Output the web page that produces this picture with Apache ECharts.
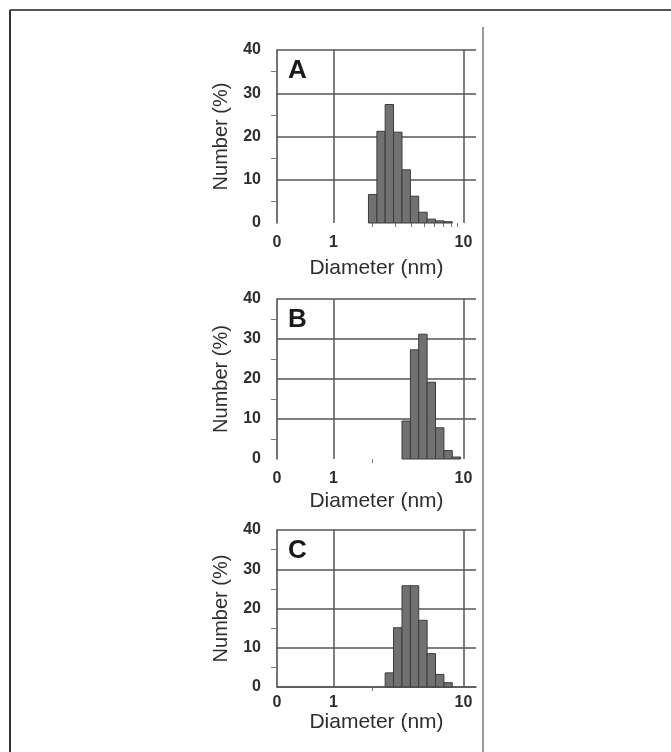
<!DOCTYPE html>
<html>
<head>
<meta charset="utf-8">
<style>
  html, body { margin: 0; padding: 0; background: #fff; }
  #chart { width: 671px; height: 752px; }
</style>
<script src="https://cdn.jsdelivr.net/npm/echarts@6/dist/echarts.min.js"></script>
</head>
<body>
<div id="chart"></div>
<script>
// Histogram bin edges (nm), shared by all panels
const binEdges = [1.86, 2.16, 2.50, 2.90, 3.37, 3.91, 4.53, 5.26, 6.10, 7.08, 8.21, 9.52];
// Panel values (Number %) and index of first bin
const panelLabels = ['A', 'B', 'C'];
const valuesA = [6.6, 21.2, 27.4, 21.0, 12.3, 6.2, 2.5, 0.9, 0.5, 0.3];
const valuesB = [9.5, 27.3, 31.2, 19.2, 7.8, 2.1, 0.5];
const valuesC = [3.6, 15.1, 25.8, 25.8, 17.0, 8.5, 3.2, 1.1];
const firstBinA = 0, firstBinB = 4, firstBinC = 2;
// Axis ticks
const xTickValues = [0.368, 1, 10];
const xTickLabels = ['0', '1', '10'];
const xMinorTicksA = [2, 3, 4, 5, 6, 7, 8, 9];
const xMinorTicksBC = [2];
const yTickValues = [0, 10, 20, 30, 40];
const xName = 'Diameter (nm)';
const yName = 'Number (%)';

const panels = [
  { vals: valuesA, first: firstBinA, minor: xMinorTicksA, top: 50, height: 173, nameGap: 35, labelMargin: 12, zeroLine: false },
  { vals: valuesB, first: firstBinB, minor: xMinorTicksBC, top: 299, height: 160, nameGap: 32, labelMargin: 12, zeroLine: false },
  { vals: valuesC, first: firstBinC, minor: xMinorTicksBC, top: 530, height: 157, nameGap: 14, labelMargin: 8, zeroLine: true }
];

const textColor = '#2e2e2e';
const gridColor = '#555';

const grids = [], xAxes = [], yAxes = [], series = [];
panels.forEach((p, i) => {
  grids.push({ left: 277, width: 199, top: p.top, height: p.height });
  xAxes.push({
    type: 'log', gridIndex: i, min: 0.368, max: 12.5, logBase: 10,
    name: xName, nameLocation: 'middle', nameGap: p.nameGap,
    nameTextStyle: { fontFamily: 'Liberation Sans', fontSize: 21, color: textColor },
    axisLine: { show: p.zeroLine, lineStyle: { color: gridColor, width: 1.5 } },
    axisTick: { show: true, customValues: p.minor, length: 4, lineStyle: { color: '#777' } },
    axisLabel: {
      customValues: xTickValues,
      formatter: v => xTickLabels[xTickValues.findIndex(t => Math.abs(t - v) < 1e-6)] ?? '',
      fontFamily: 'Liberation Sans', fontSize: 16, fontWeight: 'bold', color: textColor, margin: p.labelMargin
    },
    splitLine: { show: false }
  });
  yAxes.push({
    type: 'value', gridIndex: i, min: 0, max: 40, interval: 10,
    name: yName, nameLocation: 'middle', nameGap: 46,
    nameTextStyle: { fontFamily: 'Liberation Sans', fontSize: 20, color: textColor },
    axisLine: { show: true, lineStyle: { color: '#444', width: 1.5 } },
    axisTick: { show: false },
    minorTick: { show: true, splitNumber: 2, length: 6, lineStyle: { color: '#777' } },
    axisLabel: {
      fontFamily: 'Liberation Sans', fontSize: 16, fontWeight: 'bold', color: textColor, margin: 16,
      formatter: v => yTickValues.includes(v) ? String(v) : ''
    },
    splitLine: {
      show: true,
      lineStyle: { color: p.zeroLine ? gridColor : ['rgba(0,0,0,0)', gridColor, gridColor, gridColor, gridColor], width: 1.5 }
    }
  });
  const data = p.vals.map((v, k) => [binEdges[p.first + k], binEdges[p.first + k + 1], v]);
  series.push({
    type: 'custom', xAxisIndex: i, yAxisIndex: i,
    encode: { x: [0, 1], y: 2 },
    data: data,
    renderItem: (params, api) => {
      const tl = api.coord([api.value(0), api.value(2)]);
      const br = api.coord([api.value(1), 0]);
      return {
        type: 'rect',
        shape: { x: tl[0], y: tl[1], width: br[0] - tl[0], height: br[1] - tl[1] },
        style: { fill: '#717171', stroke: '#3c3c3c', lineWidth: 1 }
      };
    },
    markLine: {
      silent: true, symbol: 'none', label: { show: false },
      lineStyle: { color: gridColor, width: 1.5, type: 'solid' },
      data: [{ xAxis: 1 }, { xAxis: 10 }]
    },
    z: 3
  });
});

const letterGraphics = panelLabels.map((t, i) => ({
  type: 'text', left: 288, top: panels[i].top + 8,
  style: { text: t, fontFamily: 'Liberation Sans', fontSize: 26, fontWeight: 'bold', fill: '#1a1a1a' }
}));

const chart = echarts.init(document.getElementById('chart'), null, { renderer: 'canvas' });
chart.setOption({
  backgroundColor: '#fff',
  animation: false,
  grid: grids,
  xAxis: xAxes,
  yAxis: yAxes,
  series: series,
  graphic: [
    { type: 'line', shape: { x1: 10, y1: 10, x2: 671, y2: 10 }, style: { stroke: '#555', lineWidth: 2 } },
    { type: 'line', shape: { x1: 10, y1: 10, x2: 10, y2: 752 }, style: { stroke: '#333', lineWidth: 2 } },
    { type: 'line', shape: { x1: 483, y1: 27, x2: 483, y2: 752 }, style: { stroke: '#777', lineWidth: 1.5 } }
  ].concat(letterGraphics)
});
</script>
</body>
</html>
